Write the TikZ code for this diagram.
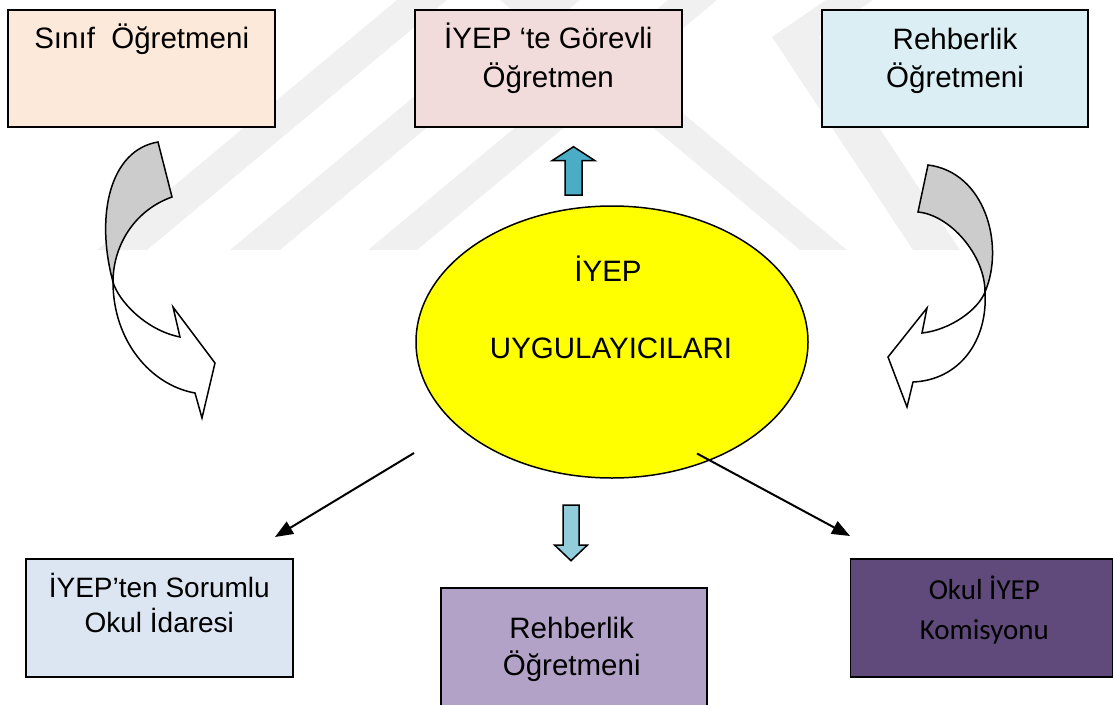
\documentclass[tikz,border=0pt]{standalone}
\usepackage{fontspec}
\setmainfont{Liberation Sans}
\newfontfamily\carlitofont{Carlito}
\usetikzlibrary{arrows.meta}
\definecolor{cA}{HTML}{FDE9D9}
\definecolor{cB}{HTML}{F2DCDB}
\definecolor{cC}{HTML}{DAEEF3}
\definecolor{cD}{HTML}{DCE6F2}
\definecolor{cE}{HTML}{B3A2C7}
\definecolor{cF}{HTML}{604A7B}
\definecolor{upc}{HTML}{4BACC6}
\definecolor{downc}{HTML}{92CDDC}
\definecolor{grayc}{HTML}{CCCCCC}
\definecolor{yel}{RGB}{255,255,0}
\definecolor{wm}{HTML}{F0F0F0}
\tikzset{
  box/.style={draw=black, line width=1.8pt, inner sep=0pt},
  txt/.style={anchor=base, inner sep=0pt, font=\fontsize{29.5}{35}\selectfont},
  txtsmall/.style={anchor=base, inner sep=0pt, font=\fontsize{28}{33}\selectfont},
  txtcal/.style={anchor=base, inner sep=0pt, font=\carlitofont\fontsize{29}{34}\selectfont},
  blockarrow/.style={draw=black, line width=1.5pt, line join=miter},
  curvearrow/.style={draw=black, line width=1.5pt, line join=miter},
  conn/.style={draw=black, line width=2pt, -{Triangle[length=18pt,width=14pt]}},
  band/.style={fill=wm, draw=none}
}
\begin{document}
\begin{tikzpicture}[x=1pt,y=-1pt]
\useasboundingbox (0,0) rectangle (1113,704);
% faint watermark bands
\begin{scope}
\clip (0,0) rectangle (1113,704);
\fill[band] (97,250) -- (147,250) -- (447,0) -- (397,0) -- cycle;
\fill[band] (230,250) -- (280,250) -- (580,0) -- (530,0) -- cycle;
\fill[band] (368,250) -- (417,250) -- (717,0) -- (668,0) -- cycle;
\fill[band] (800,250) -- (847,250) -- (547,0) -- (500,0) -- cycle;
\fill[band] (826,0) -- (772,37) -- (913,250) -- (960,250) -- (819,37) -- (873,0) -- cycle;
\end{scope}
% boxes
\node[box, fill=cA, minimum width=266.7pt, minimum height=116.7pt] (b1) at (141.7,68.3) {};
\node[box, fill=cB, minimum width=266.7pt, minimum height=116.7pt] (b2) at (548.3,68.3) {};
\node[box, fill=cC, minimum width=266.7pt, minimum height=116.7pt] (b3) at (955,68.3) {};
\node[box, fill=cD, minimum width=266.7pt, minimum height=117.4pt] (b4) at (159.3,618) {};
\node[box, fill=cE, minimum width=266pt, minimum height=120pt] (b5) at (573.7,647.7) {};
\node[box, fill=cF, minimum width=262pt, minimum height=117.4pt] (b6) at (981.5,618) {};
% texts
\node[txt] (t1) at (141.7,48) {Sınıf~ Öğretmeni};
\node[txt] (t2a) at (548.3,48) {İYEP ‘te Görevli};
\node[txt] (t2b) at (548.3,87) {Öğretmen};
\node[txt] (t3a) at (955,49) {Rehberlik};
\node[txt] (t3b) at (955,87) {Öğretmeni};
\node[txtsmall] (t4a) at (159.3,597) {İYEP’ten Sorumlu};
\node[txtsmall] (t4b) at (159.3,632) {Okul İdaresi};
\node[txt] (t5a) at (571.7,638) {Rehberlik};
\node[txt] (t5b) at (571.7,675) {Öğretmeni};
\node[txtcal] (t6a) at (984.3,599) {Okul İYEP};
\node[txtcal] (t6b) at (984.3,639) {Komisyonu};
% ellipse
\draw[fill=yel, line width=1.5pt] (612,342) ellipse [x radius=196, y radius=136];
\coordinate (ell) at (612,342);
\node[txt] (te1) at (608,281.7) {İYEP};
\node[txt] (te2) at (611,358) {UYGULAYICILARI};
% block arrows
\draw[blockarrow, fill=upc] (573.5,146.7) -- (595,160.7) -- (582,160.7) -- (582,195) -- (565,195) -- (565,160.7) -- (552,160.7) -- cycle;
\draw[blockarrow, fill=downc] (563,505) -- (579,505) -- (579,545) -- (587.5,545) -- (571,560.7) -- (554.5,545) -- (563,545) -- cycle;
% connectors
\coordinate (c1s) at (414,453);
\coordinate (c1e) at (275,537);
\coordinate (c2s) at (697,453.5);
\coordinate (c2e) at (850,536);
\draw[conn] (c1s) -- (c1e);
\draw[conn] (c2s) -- (c2e);
% left curved arrow
\draw[curvearrow, fill=white] (113,282) .. controls (118,300) and (145,330) .. (180,337) -- (173,307) -- (215,363) -- (202,418) -- (195,393) .. controls (150,385) and (113,340) .. (113,282) -- cycle;
\draw[curvearrow, fill=grayc] (158,142) .. controls (110,150) and (95,215) .. (113,282) .. controls (113,245) and (135,210) .. (172,197) -- cycle;
% right curved arrow
\draw[curvearrow, fill=white] (985,292) .. controls (978,310) and (950,330) .. (922,333) -- (927,308) -- (888,357) -- (907,407) -- (913,382) .. controls (960,380) and (988,340) .. (985,292) -- cycle;
\draw[curvearrow, fill=grayc] (928,165) .. controls (985,172) and (1005,245) .. (985,292) .. controls (985,255) and (950,215) .. (918,212) -- cycle;
\end{tikzpicture}
\end{document}
